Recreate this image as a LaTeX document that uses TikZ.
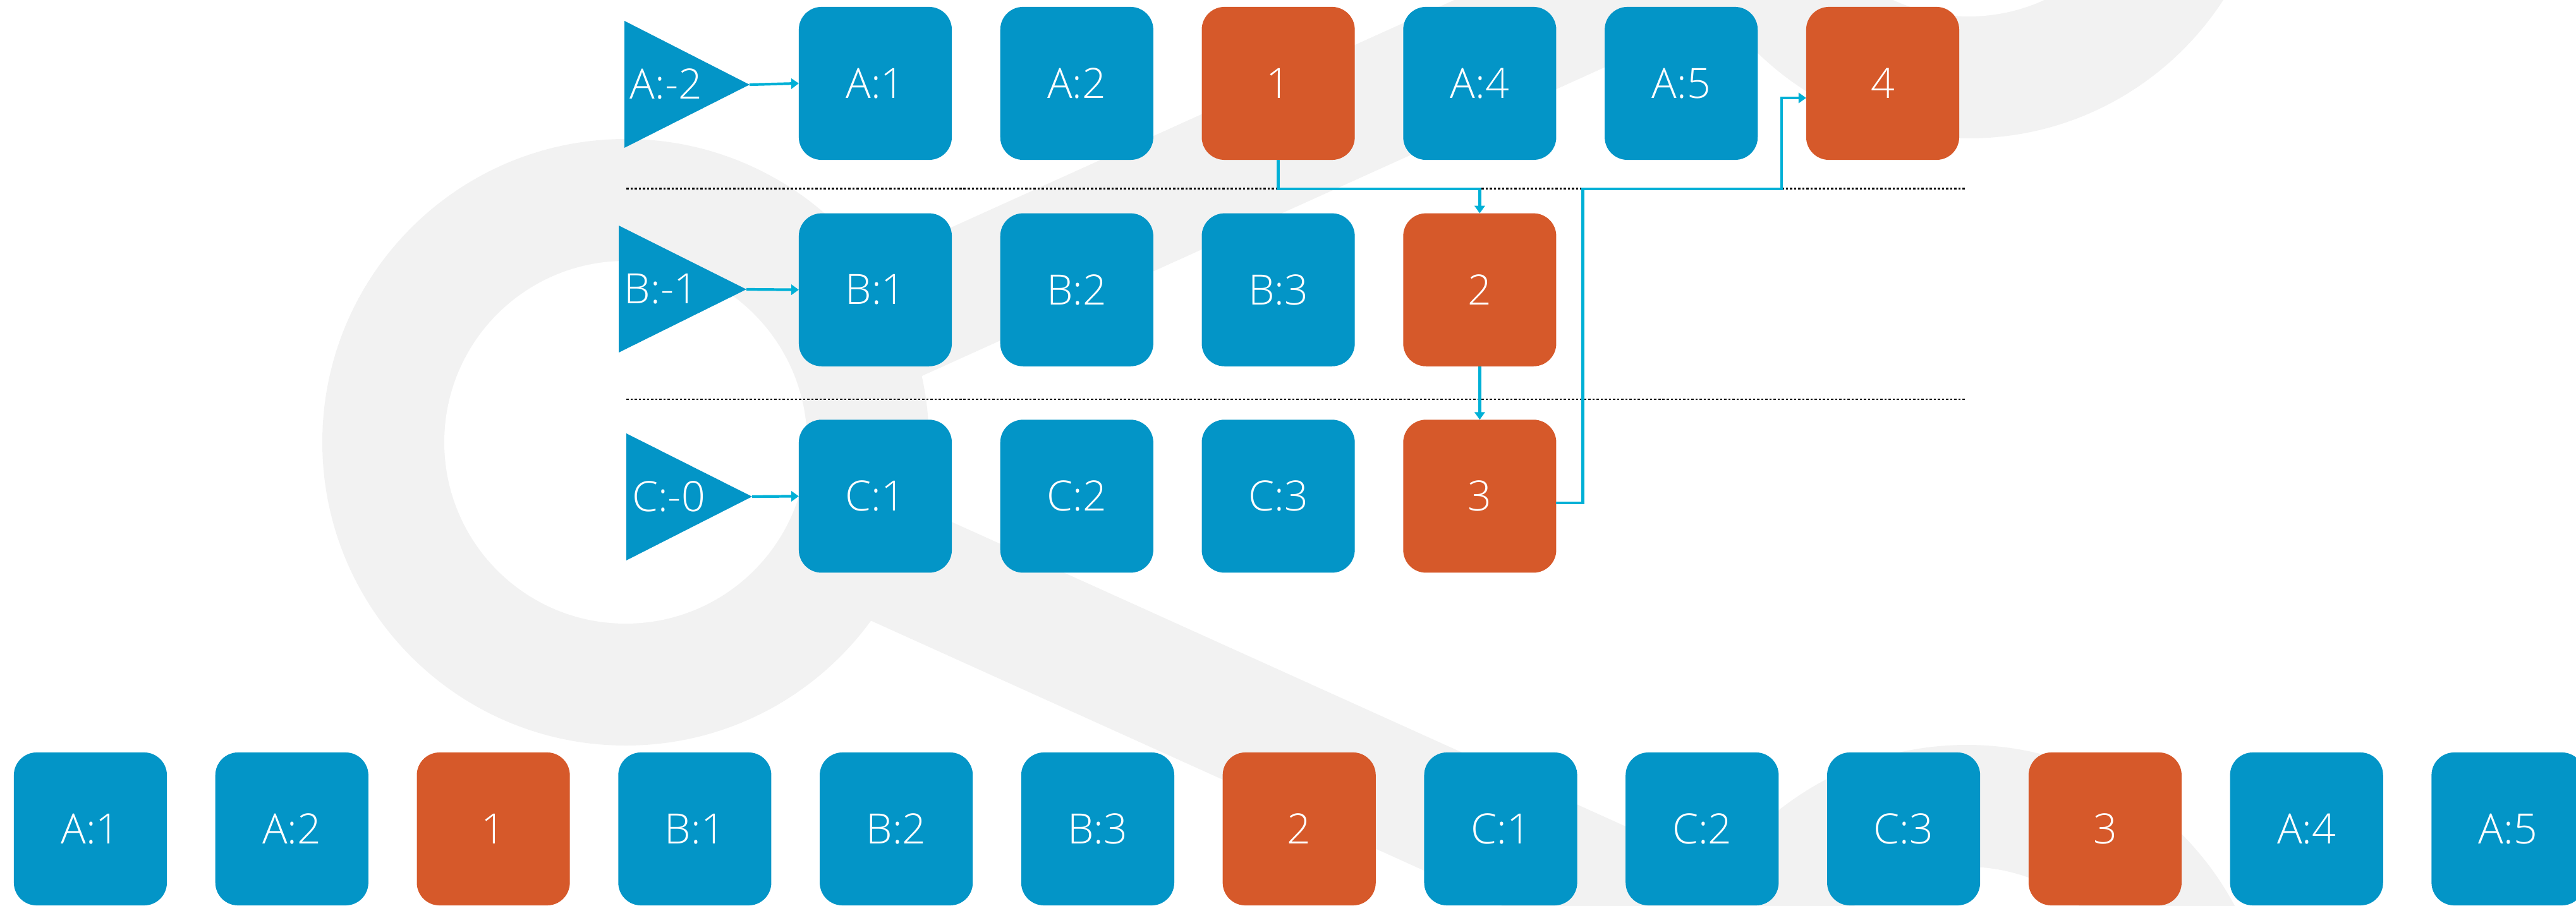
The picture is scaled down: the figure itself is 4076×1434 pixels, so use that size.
\documentclass[tikz,border=0pt]{standalone}
\usepackage{fontspec}
\IfFontExistsTF{Open Sans Light}{\setmainfont{Open Sans Light}}{%
  \IfFontExistsTF{OpenSans-Light.ttf}{\setmainfont{OpenSans-Light.ttf}}{\setmainfont{Open Sans}}}
\usetikzlibrary{arrows.meta, positioning, calc}
\definecolor{recblue}{RGB}{3,149,199}
\definecolor{recorange}{RGB}{214,89,42}
\definecolor{linkcyan}{RGB}{0,176,214}
\definecolor{markgray}{RGB}{242,242,242}
\tikzset{
  rec/.style={fill=recblue, text=white, rounded corners=0.36cm, minimum width=2.42cm, minimum height=2.42cm, inner sep=0pt, outer sep=0pt, font=\fontsize{18.8}{22}\selectfont},
  wm/.style={rec, fill=recorange},
  src/.style={fill=recblue},
  srclabel/.style={text=white, inner sep=0pt, font=\fontsize{18.8}{22}\selectfont},
  link/.style={draw=linkcyan, line width=1.2pt, -{Triangle[length=3.4pt, width=4.6pt]}},
  lanesep/.style={draw=black, line width=0.85pt, dash pattern=on 1pt off 0.85pt},
}

\begin{document}
\begin{tikzpicture}[x=0.01cm, y=-0.01cm, node distance=0.845cm and 0.766cm]
    \useasboundingbox (0,0) rectangle (4076,1434);
    \clip (0,0) rectangle (4076,1434);
    % watermark
    \draw[markgray, line width=1.95cm] (990,700) -- (3115,-261);
    \draw[markgray, line width=1.95cm] (990,700) -- (3112,1659);
    \fill[markgray] (990,700) circle[radius=480];
    \fill[markgray] (3115,-261) circle[radius=480];
    \fill[markgray] (3112,1659) circle[radius=480];
    \fill[white] (990,700) circle[radius=287];
    \fill[white] (3115,-261) circle[radius=287];
    \fill[white] (3112,1659) circle[radius=287];
    % lane separators
    \coordinate (sepab) at (991,299);
    \coordinate (sepbc) at (991,632);
    \draw[lanesep] (sepab) -- ++(2119,0);
    \draw[lanesep] (sepbc) -- ++(2119,0);
    % sources
    \fill[src] (988,33) -- (1186,134) -- (988,234) -- cycle;
    \coordinate (tipa) at (1186,134);
    \node[srclabel] (la) at (1054,133) {A:-2};
    \fill[src] (979,357) -- (1181,458) -- (979,558) -- cycle;
    \coordinate (tipb) at (1181,458);
    \node[srclabel] (lb) at (1046,457) {B:-1};
    \fill[src] (991,686) -- (1190,786) -- (991,887) -- cycle;
    \coordinate (tipc) at (1190,786);
    \node[srclabel] (lc) at (1058,786) {C:-0};
    % lane A
    \node[rec] (a1) at (1385,132) {A:1};
    \node[rec, right=of a1] (a2) {A:2};
    \node[wm, right=of a2] (w1) {1};
    \node[rec, right=of w1] (a4) {A:4};
    \node[rec, right=of a4] (a5) {A:5};
    \node[wm, right=of a5] (w4) {4};
    % lane B
    \node[rec, below=of a1] (b1) {B:1};
    \node[rec, right=of b1] (b2) {B:2};
    \node[rec, right=of b2] (b3) {B:3};
    \node[wm, right=of b3] (w2) {2};
    % lane C
    \node[rec, below=of b1] (c1) {C:1};
    \node[rec, right=of c1] (c2) {C:2};
    \node[rec, right=of c2] (c3) {C:3};
    \node[wm, right=of c3] (w3) {3};
    % merged output
    \node[rec] (o1) at (143,1312) {A:1};
    \node[rec, right=of o1] (o2) {A:2};
    \node[wm, right=of o2] (o3) {1};
    \node[rec, right=of o3] (o4) {B:1};
    \node[rec, right=of o4] (o5) {B:2};
    \node[rec, right=of o5] (o6) {B:3};
    \node[wm, right=of o6] (o7) {2};
    \node[rec, right=of o7] (o8) {C:1};
    \node[rec, right=of o8] (o9) {C:2};
    \node[rec, right=of o9] (o10) {C:3};
    \node[wm, right=of o10] (o11) {3};
    \node[rec, right=of o11] (o12) {A:4};
    \node[rec, right=of o12] (o13) {A:5};
    % links
    \draw[link] (tipa) -- (a1.west);
    \draw[link] (tipb) -- (b1.west);
    \draw[link] (tipc) -- (c1.west);
    \draw[link] (w1.south) -- (w1.south |- sepab) -| (w2.north);
    \draw[link] (w2) -- (w3);
    \draw[link] ([yshift=-0.11cm]w3.east) -- ++(42,0) |- ($(w4.west |- sepab)+(-39,0)$) |- ([yshift=-0.23cm]w4.west);
  \end{tikzpicture}
\end{document}
